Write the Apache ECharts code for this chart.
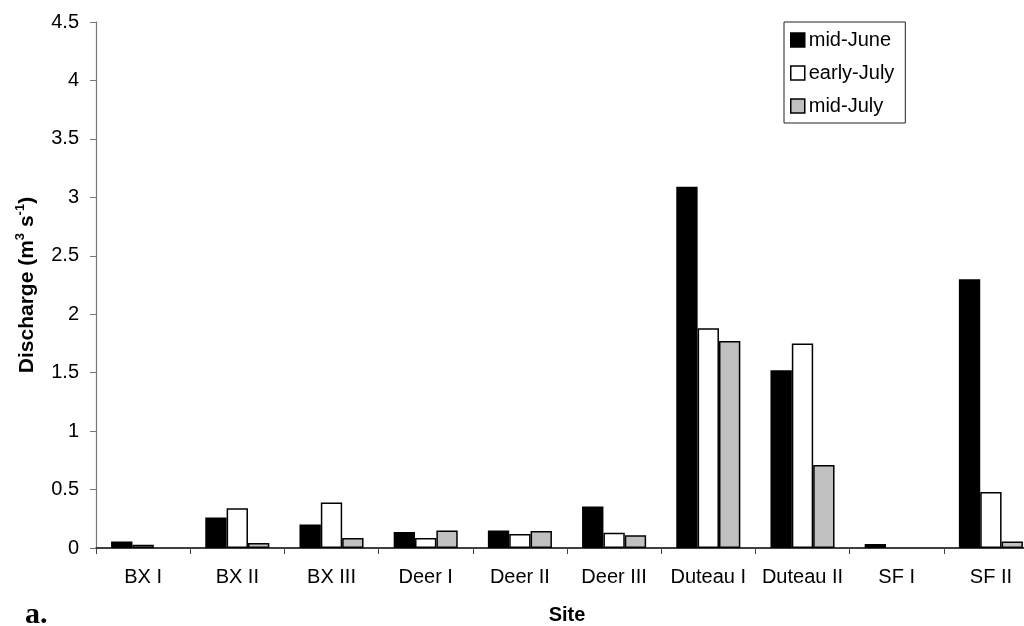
<!DOCTYPE html>
<html>
<head>
<meta charset="utf-8">
<title>Discharge by site</title>
<script src="https://cdn.jsdelivr.net/npm/echarts@6/dist/echarts.min.js"></script>
<style>
  html, body { margin: 0; padding: 0; background: #fff; }
  #chart { width: 1024px; height: 626px; }
</style>
</head>
<body>
<div id="chart"></div>
<script>
// Sites sampled along the x axis
const sites = ['BX I', 'BX II', 'BX III', 'Deer I', 'Deer II', 'Deer III', 'Duteau I', 'Duteau II', 'SF I', 'SF II'];

// Discharge (m3 s-1) for each sampling period
const midJune   = [0.055, 0.26, 0.20, 0.137, 0.15, 0.356, 3.09, 1.52, 0.034, 2.30];
const earlyJuly = [0.028, 0.34, 0.39, 0.086, 0.12, 0.13, 1.88, 1.75, 0, 0.48];
const midJuly   = [0, 0.043, 0.086, 0.15, 0.145, 0.11, 1.77, 0.71, 0, 0.056];

const seriesNames = ['mid-June', 'early-July', 'mid-July'];
const yTicks = { min: 0, max: 4.5, interval: 0.5 };

const FONT = '"Liberation Sans", Arial, sans-serif';

const chart = echarts.init(document.getElementById('chart'), null, { renderer: 'canvas' });

// A zero discharge leaves no visible bar, so drop the outline there
function toBarData(values) {
  return values.map(v => (v === 0 ? { value: 0, itemStyle: { borderWidth: 0 } } : v));
}

function barSeries(name, data, fill) {
  return {
    name: name,
    type: 'bar',
    data: toBarData(data),
    barGap: '0%',
    barCategoryGap: '32%',
    itemStyle: { color: fill, borderColor: '#000', borderWidth: 1.5 },
    emphasis: { disabled: true },
    animation: false
  };
}

chart.setOption({
  backgroundColor: '#fff',
  animation: false,
  textStyle: { fontFamily: FONT },
  grid: { left: 96, top: 22, width: 942, bottom: 78, containLabel: false, outerBoundsMode: 'none' },
  legend: {
    orient: 'vertical',
    left: 784,
    top: 22,
    padding: [8, 11, 7, 6],
    itemGap: 13,
    itemWidth: 14,
    itemHeight: 14,
    itemStyle: { borderColor: '#000', borderWidth: 1.5 },
    borderColor: '#222',
    borderWidth: 1,
    icon: 'rect',
    selectedMode: false,
    textStyle: { fontFamily: FONT, fontSize: 20, color: '#000', lineHeight: 20, padding: [0, 0, 0, -1] },
    data: seriesNames
  },
  xAxis: {
    type: 'category',
    data: sites,
    name: 'Site',
    nameLocation: 'middle',
    nameGap: 57,
    nameTextStyle: { fontFamily: FONT, fontSize: 20, fontWeight: 'bold', color: '#000' },
    axisLine: { lineStyle: { color: '#000', width: 1.5 } },
    axisTick: { show: true, length: 6, lineStyle: { color: '#444', width: 1 } },
    axisLabel: { fontFamily: FONT, fontSize: 20, color: '#000', margin: 19, interval: 0 },
    splitLine: { show: false }
  },
  yAxis: {
    type: 'value',
    min: yTicks.min,
    max: yTicks.max,
    interval: yTicks.interval,
    name: '{t|Discharge (m}{s|3}{t| s}{s|-1}{t|)}',
    nameLocation: 'middle',
    nameRotate: 90,
    nameGap: 58,
    nameTextStyle: {
      rich: {
        t: { fontFamily: FONT, fontSize: 21, fontWeight: 'bold', color: '#000', lineHeight: 24, verticalAlign: 'bottom' },
        s: { fontFamily: FONT, fontSize: 13, fontWeight: 'bold', color: '#000', lineHeight: 24, verticalAlign: 'top' }
      }
    },
    axisLine: { show: true, lineStyle: { color: '#777', width: 1.2 } },
    axisTick: { show: true, length: 6, lineStyle: { color: '#777', width: 1 } },
    axisLabel: { fontFamily: FONT, fontSize: 20, color: '#000', margin: 17 },
    splitLine: { show: false }
  },
  series: [
    barSeries(seriesNames[0], midJune, '#000000'),
    barSeries(seriesNames[1], earlyJuly, '#ffffff'),
    barSeries(seriesNames[2], midJuly, '#c0c0c0')
  ],
  graphic: [
    {
      type: 'text',
      left: 25,
      top: 600,
      style: {
        text: 'a.',
        fontFamily: '"Liberation Serif", "Times New Roman", serif',
        fontSize: 30,
        fontWeight: 'bold',
        fill: '#000'
      }
    }
  ]
});
</script>
</body>
</html>
